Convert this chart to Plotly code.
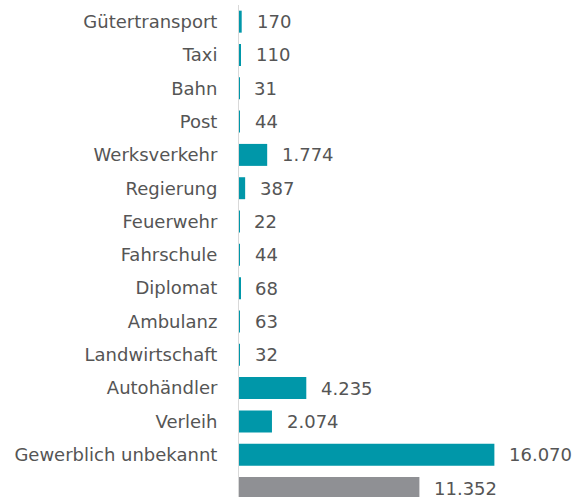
import plotly.graph_objects as go

categories = ["Gütertransport", "Taxi", "Bahn", "Post", "Werksverkehr", "Regierung",
              "Feuerwehr", "Fahrschule", "Diplomat", "Ambulanz", "Landwirtschaft",
              "Autohändler", "Verleih", "Gewerblich unbekannt", "Privat"]
values = [170, 110, 31, 44, 1774, 387, 22, 44, 68, 63, 32, 4235, 2074, 16070, 11352]
colors = ["#0097A9"] * 14 + ["#8F9094"]

labels = [f"{v:,}".replace(",", ".") for v in values]
ypos = list(range(len(categories)))

FONT = "DejaVu Sans, Verdana, sans-serif"
TXT = "#555555"

fig = go.Figure()
fig.add_trace(go.Bar(
    x=values, y=ypos, orientation="h",
    marker=dict(color=colors, line=dict(width=0)),
    width=0.66, hoverinfo="skip",
))

for v, y, t in zip(values, ypos, labels):
    fig.add_annotation(x=v, y=y, text=t, xanchor="left", yanchor="middle",
                       xshift=13, showarrow=False,
                       font=dict(family=FONT, size=18, color=TXT))

fig.update_layout(
    width=574, height=497,
    margin=dict(l=239, r=0, t=5, b=0, autoexpand=False),
    paper_bgcolor="white", plot_bgcolor="white",
    showlegend=False,
    xaxis=dict(range=[0, 21080], showgrid=False, zeroline=False, automargin=False,
               showticklabels=False, showline=False, fixedrange=True),
    yaxis=dict(range=[14.27, -0.5], tickvals=ypos, ticktext=categories,
               showgrid=False, zeroline=False, showline=True, automargin=False,
               linecolor="#D9D9D9", linewidth=1, ticks="", ticklabelstandoff=17,
               tickfont=dict(family=FONT, size=18, color=TXT), fixedrange=True),
)

fig.write_html("out.html", config={"displayModeBar": False},
               post_script="document.body.style.margin='0';document.body.style.overflow='hidden';")
